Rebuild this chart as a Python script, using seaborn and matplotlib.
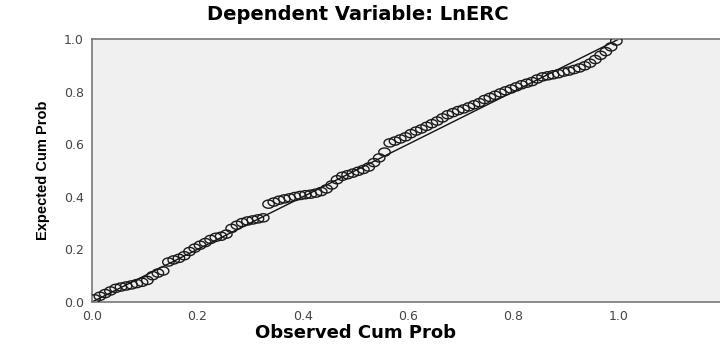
"""
Normal P-P plot of regression standardized residual (SPSS style) for LnERC.
"""

# === Imports ===

import numpy as np
import pandas as pd
from matplotlib import pyplot as plt
import seaborn as sns


# === Data ===

observed = [0.005, 0.015, 0.025, 0.035, 0.045, 0.055, 0.065, 0.075, 0.085, 0.095,
            0.105, 0.115, 0.125, 0.135, 0.145, 0.155, 0.165, 0.175, 0.185, 0.195,
            0.205, 0.215, 0.225, 0.235, 0.245, 0.255, 0.265, 0.275, 0.285, 0.295,
            0.305, 0.315, 0.325, 0.335, 0.345, 0.355, 0.365, 0.375, 0.385, 0.395,
            0.405, 0.415, 0.425, 0.435, 0.445, 0.455, 0.465, 0.475, 0.485, 0.495,
            0.505, 0.515, 0.525, 0.535, 0.545, 0.555, 0.565, 0.575, 0.585, 0.595,
            0.605, 0.615, 0.625, 0.635, 0.645, 0.655, 0.665, 0.675, 0.685, 0.695,
            0.705, 0.715, 0.725, 0.735, 0.745, 0.755, 0.765, 0.775, 0.785, 0.795,
            0.805, 0.815, 0.825, 0.835, 0.845, 0.855, 0.865, 0.875, 0.885, 0.895,
            0.905, 0.915, 0.925, 0.935, 0.945, 0.955, 0.965, 0.975, 0.985, 0.995]

expected = [0.012, 0.022, 0.032, 0.042, 0.052, 0.057, 0.061, 0.065, 0.070, 0.075,
            0.082, 0.100, 0.110, 0.118, 0.152, 0.160, 0.166, 0.176, 0.192, 0.205,
            0.216, 0.226, 0.238, 0.246, 0.250, 0.258, 0.280, 0.292, 0.302, 0.308,
            0.312, 0.316, 0.320, 0.372, 0.380, 0.387, 0.392, 0.396, 0.401, 0.405,
            0.408, 0.410, 0.414, 0.420, 0.430, 0.445, 0.465, 0.478, 0.484, 0.490,
            0.497, 0.504, 0.513, 0.530, 0.548, 0.570, 0.605, 0.612, 0.620, 0.628,
            0.640, 0.650, 0.658, 0.668, 0.678, 0.688, 0.700, 0.712, 0.720, 0.728,
            0.734, 0.742, 0.750, 0.758, 0.770, 0.778, 0.786, 0.795, 0.803, 0.810,
            0.818, 0.826, 0.832, 0.838, 0.848, 0.856, 0.860, 0.864, 0.868, 0.874,
            0.878, 0.884, 0.890, 0.898, 0.908, 0.922, 0.938, 0.952, 0.970, 0.992]

diag_x = [0.0, 1.0]
diag_y = [0.0, 1.0]

tick_vals = [0.0, 0.2, 0.4, 0.6, 0.8, 1.0]
tick_labels = ["0.0", "0.2", "0.4", "0.6", "0.8", "1.0"]

title = "Dependent Variable: LnERC"
xlabel = "Observed Cum Prob"
ylabel = "Expected Cum Prob"


# === Plot ===

def main():
    sns.set_style("white")
    plt.rcParams["font.family"] = ["DejaVu Sans"]

    data = pd.DataFrame({"observed": observed, "expected": expected})

    fig = plt.figure(figsize=(7.2, 3.47), dpi=100)
    ax = fig.add_axes([92 / 720, 45 / 347, 1 - 92 / 720, (302 - 39) / 347])
    ax.set_facecolor("#f0f0f0")

    #== Slightly wide ellipse as marker (the original is stretched sideways)
    t = np.linspace(0, 2 * np.pi, 40)
    ellipse = list(zip(1.4 * np.cos(t), np.sin(t)))

    sns.lineplot(x=diag_x, y=diag_y, ax=ax, color="#111111", linewidth=1.0)
    sns.scatterplot(data=data, x="observed", y="expected", ax=ax,
                    marker=ellipse, s=68, facecolor="none",
                    edgecolor="#1a1a1a", linewidth=1.0, zorder=3)

    ax.set_xlim(0, (720 - 92) / 527)
    ax.set_ylim(0, 1.0)
    ax.set_xticks(tick_vals)
    ax.set_xticklabels(tick_labels)
    ax.set_yticks(tick_vals)
    ax.set_yticklabels(tick_labels)
    ax.tick_params(axis="both", direction="out", length=4, width=1.2,
                   color="#555555", labelsize=9, labelcolor="#444444", pad=2)
    ax.set_xlabel("")
    ax.set_ylabel(ylabel, fontfamily="Liberation Sans", fontweight="bold",
                  fontsize=10.5, color="black", labelpad=10)

    for side in ["left", "top", "bottom"]:
        ax.spines[side].set_visible(True)
        ax.spines[side].set_color("#777777")
        ax.spines[side].set_linewidth(1.2)
    ax.spines["right"].set_visible(False)

    fig.text(0.497, 1 - 15 / 347, title, ha="center", va="center",
             fontsize=14, fontweight="bold", color="black")
    fig.text(0.494, 1 - 333 / 347, xlabel, ha="center", va="center",
             fontsize=13, fontweight="bold", color="black")

    fig.savefig("out.png", dpi=100)
    plt.close()


main()
